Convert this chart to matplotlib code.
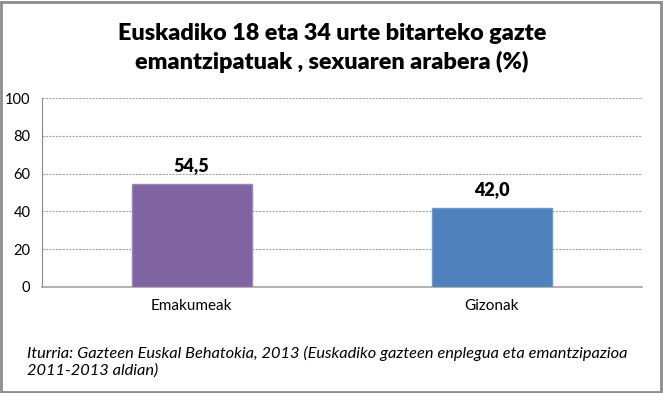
import matplotlib
matplotlib.use("Agg")
import matplotlib.pyplot as plt
from matplotlib.patches import Rectangle

categories = ["Emakumeak", "Gizonak"]
values = [54.5, 42.0]
value_labels = ["54,5", "42,0"]
colors = ["#8064A2", "#4F81BD"]
edge_colors = ["#9A85B8", "#6F98CB"]
y_ticks = [0, 20, 40, 60, 80, 100]

title = "Euskadiko 18 eta 34 urte bitarteko gazte\nemantzipatuak , sexuaren arabera (%)"
source = ("Iturria: Gazteen Euskal Behatokia, 2013 (Euskadiko gazteen enplegua eta emantzipazioa\n"
          "2011-2013 aldian)")

plt.rcParams["font.family"] = ["Lato", "DejaVu Sans"]

W, H = 663, 393
fig = plt.figure(figsize=(W / 100, H / 100), dpi=100)
ax = fig.add_axes([41.5 / W, 1 - 287 / H, (642 - 41.5) / W, (287 - 98) / H])

x = list(range(len(categories)))
bars = ax.bar(x, values, width=0.4, color=colors, edgecolor=edge_colors, linewidth=1, zorder=3)

for b, lab in zip(bars, value_labels):
    ax.annotate(lab, (b.get_x() + b.get_width() / 2, b.get_height()),
                xytext=(0, 7), textcoords="offset points", ha="center", va="bottom",
                fontsize=13, fontweight="heavy", color="#000000")

ax.set_xlim(-0.5, 1.5)
ax.set_ylim(0, 100)
ax.set_yticks(y_ticks)
ax.set_xticks(x)
ax.set_xticklabels(categories, fontsize=11)
ax.tick_params(axis="y", labelsize=10.5, length=0, pad=8)
ax.tick_params(axis="x", length=0, pad=9)
ax.yaxis.grid(True, linestyle=(0, (2, 1)), color="#A6A6A6", linewidth=0.8, zorder=0)
for s in ["top", "right"]:
    ax.spines[s].set_visible(False)
ax.spines["left"].set_color("#888888")
ax.spines["bottom"].set_color("#A6A6A6")
ax.spines["bottom"].set_linewidth(1.2)

fig.text(332 / W, 1 - 48 / H, title, ha="center", va="center", fontsize=16.8,
         fontweight="heavy", linespacing=1.38)
fig.text(27 / W, 1 - 362 / H, source, ha="left", va="center", fontsize=11.8,
         style="italic", linespacing=1.25)

fig.patches.append(Rectangle((0.002, 0.003), 0.995, 0.993, transform=fig.transFigure,
                             fill=False, edgecolor="#8C8C8C", linewidth=2))

fig.savefig("out.png", dpi=100)
